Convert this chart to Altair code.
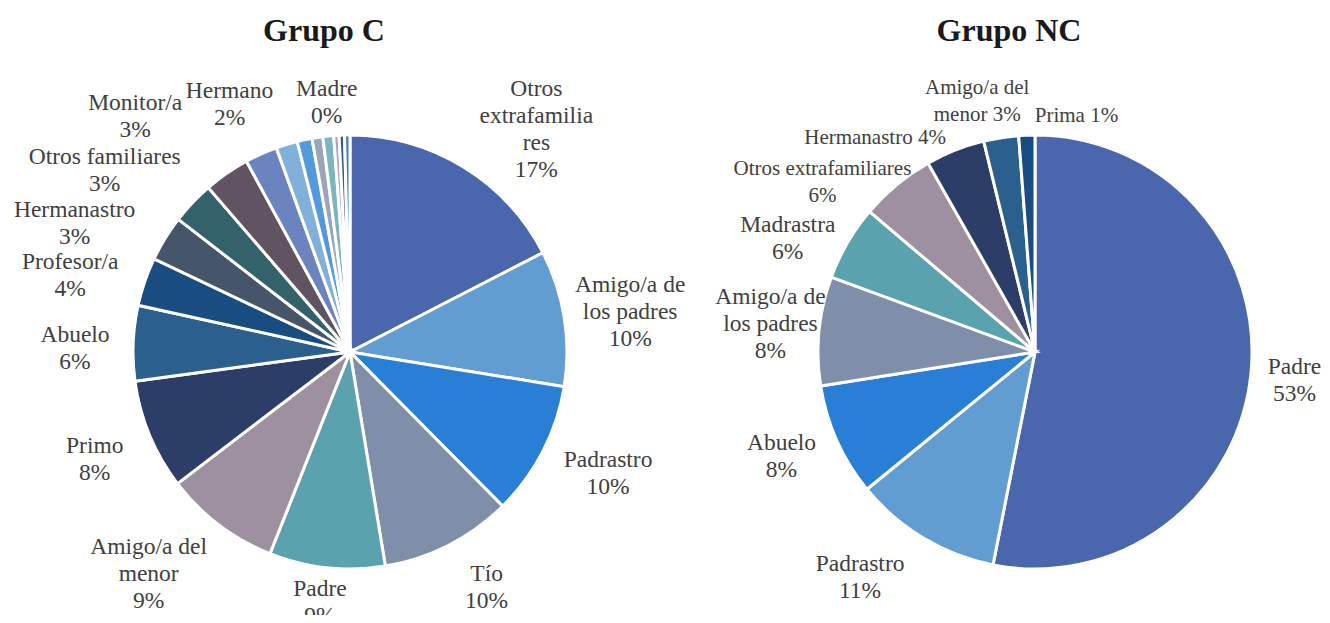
import math
import altair as alt
import pandas as pd

# ---------------- data ----------------
grupos = ["Grupo C", "Grupo NC"]

c_categorias = [
    "Otros extrafamiliares", "Amigo/a de los padres", "Padrastro", "Tío", "Padre",
    "Amigo/a del menor", "Primo", "Abuelo", "Profesor/a", "Hermanastro",
    "Otros familiares", "Monitor/a", "Hermano", "Otra categoría 1", "Otra categoría 2",
    "Otra categoría 3", "Otra categoría 4", "Otra categoría 5", "Otra categoría 6", "Madre",
]
c_valores = [17.4, 10.1, 10.0, 9.8, 8.6, 8.6, 8.2, 5.6, 3.6, 3.4,
             3.2, 3.4, 2.4, 1.6, 1.1, 0.8, 0.8, 0.4, 0.4, 0.4]

nc_categorias = [
    "Padre", "Padrastro", "Abuelo", "Amigo/a de los padres", "Madrastra",
    "Otros extrafamiliares", "Hermanastro", "Amigo/a del menor", "Prima",
]
nc_valores = [53.1, 11.0, 8.4, 8.1, 5.6, 5.6, 4.4, 2.6, 1.2]

# ---------------- styles ----------------
# Excel "Blue II" series colour sequence
paleta = [
    "#4A66AC", "#629DD1", "#297FD5", "#7F8FA9", "#5AA2AE", "#9D90A0",
    "#2C3D67", "#2A5F8E", "#194C80", "#47556A", "#34626A", "#605462",
    "#6B83BF", "#81B1DA", "#5399DE", "#99A5BA", "#7BB5BE", "#B1A6B3",
    "#3B5189", "#387FBE",
]

# label layout: (text template, angle nudge in degrees, label radius px, font size)
c_etiquetas = {
    "Otros extrafamiliares": ("Otros\nextrafamilia\nres\n{p}", 8.6, 290, 23.5),
    "Amigo/a de los padres": ("Amigo/a de\nlos padres\n{p}", 0.9, 283, 23.5),
    "Padrastro": ("Padrastro\n{p}", -2.1, 285, 23.5),
    "Tío": ("Tío\n{p}", -3.1, 272, 23.5),
    "Padre": ("Padre\n{p}", 0.7, 252, 23.5),
    "Amigo/a del menor": ("Amigo/a del\nmenor\n{p}", 5.0, 300, 23.5),
    "Primo": ("Primo\n{p}", -0.3, 277, 23.5),
    "Abuelo": ("Abuelo\n{p}", -1.7, 275, 23.5),
    "Profesor/a": ("Profesor/a\n{p}", -3.7, 290, 23.5),
    "Hermanastro": ("Hermanastro\n{p}", -6.5, 304, 23.5),
    "Otros familiares": ("Otros familiares\n{p}", -7.0, 305, 23.5),
    "Monitor/a": ("Monitor/a\n{p}", -7.7, 319, 23.5),
    "Hermano": ("Hermano\n{p}", -1.8, 275, 23.5),
    "Madre": ("Madre\n{p}", -4.6, 251, 23.5),
}
nc_etiquetas = {
    "Padre": ("Padre\n{p}", 0.6, 261, 23.5),
    "Padrastro": ("Padrastro\n{p}", 6.9, 285, 23.5),
    "Abuelo": ("Abuelo\n{p}", 1.8, 274, 23.5),
    "Amigo/a de los padres": ("Amigo/a de\nlos padres\n{p}", 0.4, 266, 23.5),
    "Madrastra": ("Madrastra\n{p}", -5.6, 272, 23.5),
    "Otros extrafamiliares": ("Otros extrafamiliares\n{p}", -11.8, 272, 21),
    "Hermanastro": ("Hermanastro {p}", -15.2, 267, 21),
    "Amigo/a del menor": ("Amigo/a del\nmenor {p}", -4.0, 257, 21),
    "Prima": ("Prima {p}", 12.1, 240, 21),
}

FONT = "Liberation Serif"
LINE_H = 27
CY = 344  # vertical centre of both pies inside the plot area


def build(grupo, cats, vals, etiquetas):
    total = sum(vals)
    rows = []
    for i, (c, v) in enumerate(zip(cats, vals)):
        lab = etiquetas.get(c)
        texto = lab[0].format(p=f"{round(v / total * 100)}%") if lab else ""
        rows.append({
            "grupo": grupo,
            "categoria": c,
            "valor": v,
            "orden": i,
            "color": paleta[i % len(paleta)],
            "texto": texto,
            "nl": texto.count("\n") + 1,
            "nudge": lab[1] if lab else 0.0,
            "lr": lab[2] if lab else 0,
            "fs": lab[3] if lab else 0,
        })
    return rows


df = pd.DataFrame(
    build("Grupo C", c_categorias, c_valores, c_etiquetas)
    + build("Grupo NC", nc_categorias, nc_valores, nc_etiquetas)
)

xscale = alt.Scale(domain=grupos, range=[342, 1027], padding=0)
tscale = alt.Scale(domain=[0, 1], range=[0, 2 * math.pi])

base = (
    alt.Chart(df)
    .transform_joinaggregate(total="sum(valor)", groupby=["grupo"])
    .transform_window(acum="sum(valor)", groupby=["grupo"], sort=[alt.SortField("orden")])
    .transform_calculate(
        t0="(datum.acum - datum.valor) / datum.total",
        t1="datum.acum / datum.total",
    )
)

arcs = base.mark_arc(outerRadius=217, stroke="white", strokeWidth=3).encode(
    x=alt.X("grupo:N", scale=xscale, axis=None),
    y=alt.value(CY),
    theta=alt.Theta("t0:Q", scale=tscale, stack=False),
    theta2="t1:Q",
    color=alt.Color("color:N", scale=None),
    order=alt.Order("orden:Q"),
)

labels = (
    base.transform_filter("datum.texto != ''")
    .transform_calculate(
        tl="(datum.t0 + datum.t1) / 2 + datum.nudge / 360",
        yc=f"{CY} - (datum.nl - 1) * {LINE_H} / 2",
    )
    .mark_text(font=FONT, lineBreak="\n", lineHeight=LINE_H, color="#404040",
               align="center", baseline="middle")
    .encode(
        x=alt.X("grupo:N", scale=xscale, axis=None),
        y=alt.Y("yc:Q", scale=None, axis=None),
        theta=alt.Theta("tl:Q", scale=tscale, stack=False),
        radius=alt.Radius("lr:Q", scale=None),
        text="texto:N",
        size=alt.Size("fs:Q", scale=None),
    )
)

titles = (
    alt.Chart(pd.DataFrame({"grupo": grupos}))
    .mark_text(font=FONT, fontSize=32, fontWeight="bold", color="#1a1a1a",
               align="center", baseline="alphabetic", dx=-26)
    .encode(
        x=alt.X("grupo:N", scale=xscale, axis=None),
        y=alt.value(33),
        text="grupo:N",
    )
)

chart = (
    alt.layer(arcs, labels, titles)
    .properties(width=1314, height=607, autosize=alt.AutoSizeParams(type="none"), padding=0)
    .configure_view(stroke=None)
)

chart.save("out.html", embed_options={"renderer": "svg", "actions": False})
